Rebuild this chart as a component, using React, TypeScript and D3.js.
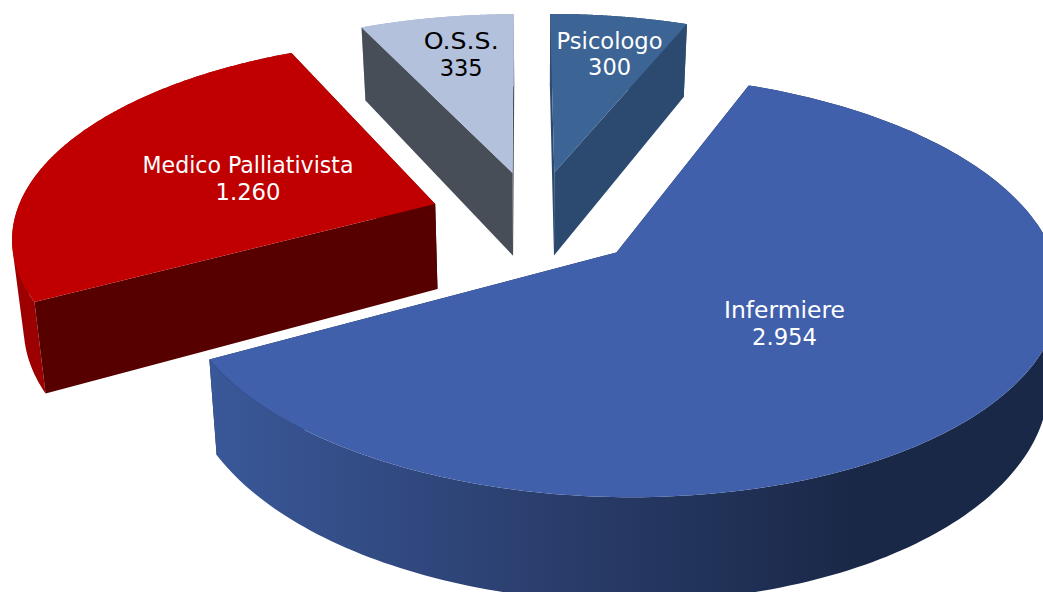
import React from "react";
import * as d3 from "d3";

const categories = ["Infermiere", "Medico Palliativista", "O.S.S.", "Psicologo"];
const values = [2954, 1260, 335, 300];
const valueLabels = ["2.954", "1.260", "335", "300"];
const topColors = ["#4060ac", "#c00000", "#b3c1dc", "#3c6494"];
const faceColors = ["#1a2747", "#560000", "#484e58", "#2c4a70"];
const wallColors = ["url(#infWall)", "#9c0000", "#9aa8c0", "#2d4d75"];
const labelColors = ["#ffffff", "#ffffff", "#000000", "#ffffff"];
const labelRadius = [0.55, 0.45, 0.55, 0.7];
const labelNudge: [number, number][] = [[-27, -14], [-15, -5], [-7, -33], [8, -10]];
const sliceRadius = [1, 0.99, 1, 1];
const nameWidths = [121, 211, 75, 106];
const valueWidths = [65, 65, 43, 43];

const W = 1043, H = 592;
const cx = 535, cy = 219, Rx = 425, Ry = 196, pY = 0.153, qX = 0, depth = 86, explode = 0.25;
const startDeg = 22;

function project(X: number, Y: number, z: number): [number, number] {
  const D = 1 - pY * Y - qX * X;
  let x = cx + (Rx * X) / D;
  let y = cy + (Ry * Y) / D;
  if (z) {
    x += 0.022 * (540 - x) * z;
    y += (depth * z) / D;
  }
  return [x, y];
}

const pieGen = d3.pie<number>().sort(null)
  .startAngle((startDeg * Math.PI) / 180)
  .endAngle((startDeg * Math.PI) / 180 + 2 * Math.PI);
const arcs = pieGen(values);
const line = d3.line<[number, number]>().curve(d3.curveLinear);

function slice(i: number) {
  const a = arcs[i];
  const mid = (a.startAngle + a.endAngle) / 2;
  const ox = explode * Math.sin(mid), oy = -explode * Math.cos(mid);
  const rr = sliceRadius[i];
  const at = (t: number, r: number, z: number) => project(ox + r * rr * Math.sin(t), oy - r * rr * Math.cos(t), z);
  const steps = d3.range(0, 201).map((k) => a.startAngle + ((a.endAngle - a.startAngle) * k) / 200);
  const arcTop = steps.map((t) => at(t, 1, 0));
  const arcBot = steps.map((t) => at(t, 1, 1));
  const apexTop = project(ox, oy, 0);
  const apexBot = project(ox, oy, 1);
  const top = line([apexTop, ...arcTop])! + "Z";
  // the outer wall is the sweep of the rim: one consistently wound quad per step
  const wall = d3.range(0, 200).map((k) => {
    const quad: [number, number][] = [arcTop[k], arcTop[k + 1], arcBot[k + 1], arcBot[k]];
    if (d3.polygonArea(quad) < 0) quad.reverse();
    return line(quad)! + "Z";
  }).join("");
  const midTop = at(mid, 0.5, 0);
  const dx = midTop[0] - apexTop[0], dy = midTop[1] - apexTop[1];
  const face = (j: number) => {
    const ex = arcTop[j][0] - apexTop[0], ey = arcTop[j][1] - apexTop[1];
    const inner = ex * dy - ey * dx;
    const visible = Math.abs(ex) > 20 && Math.sign(inner) !== Math.sign(ex);
    return { visible, d: line([apexTop, arcTop[j], arcBot[j], apexBot])! + "Z" };
  };
  const faces = [face(0), face(200)];
  const [lx, ly] = at(mid, labelRadius[i], 0);
  return { top, wall, faces, lx: lx + labelNudge[i][0], ly: ly + labelNudge[i][1] };
}

const order = [3, 2, 1, 0];
const fontFamily = "'DejaVu Sans', Verdana, sans-serif";

export default function App() {
  return (
    <svg width={W} height={H} viewBox={`0 0 ${W} ${H}`} style={{ position: "fixed", left: 0, top: 0, background: "#fff" }}>
      <defs>
        <linearGradient id="infWall" x1="0" x2="1" y1="0" y2="0">
          <stop offset="0" stopColor="#3a5899" />
          <stop offset="0.35" stopColor="#2c4172" />
          <stop offset="0.76" stopColor="#1a2847" />
          <stop offset="1" stopColor="#1a2847" />
        </linearGradient>
      </defs>
      {order.map((i) => {
        const s = slice(i);
        return (
          <g key={categories[i]}>
            {s.faces.filter((f) => !f.visible).map((f, k) => <path key={k} d={f.d} fill={faceColors[i]} />)}
            <path d={s.wall} fill={wallColors[i]} fillRule="nonzero" />
            {s.faces.filter((f) => f.visible).map((f, k) => <path key={k} d={f.d} fill={faceColors[i]} />)}
            <path d={s.top} fill={topColors[i]} />
          </g>
        );
      })}
      {order.map((i) => {
        const s = slice(i);
        return (
          <text key={categories[i]} x={s.lx} y={s.ly} textAnchor="middle" fill={labelColors[i]} fontFamily={fontFamily} fontSize={23}>
            <tspan x={s.lx} textLength={nameWidths[i]} lengthAdjust="spacingAndGlyphs">{categories[i]}</tspan>
            <tspan x={s.lx} dy="26.5" textLength={valueWidths[i]} lengthAdjust="spacingAndGlyphs">{valueLabels[i]}</tspan>
          </text>
        );
      })}
    </svg>
  );
}
